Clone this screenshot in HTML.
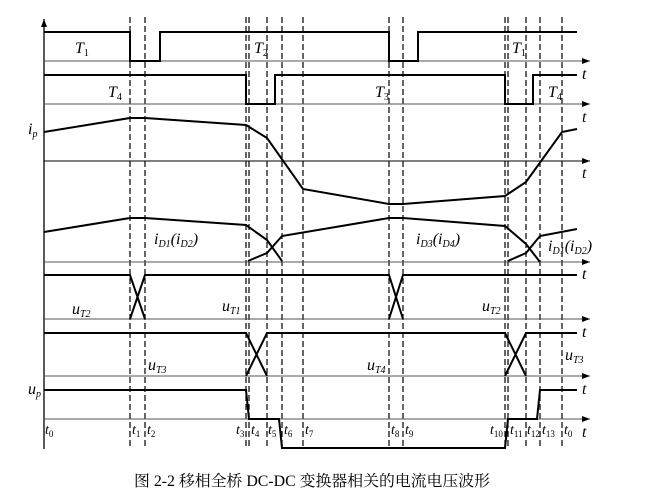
<!DOCTYPE html>
<html><head><meta charset="utf-8"><style>
html,body{margin:0;padding:0;background:#fff;}
svg{display:block;}
text{font-family:"Liberation Serif","Noto Serif CJK SC",serif;font-style:italic;fill:#000;}
tspan.s{font-style:normal;}
.cap{font-style:normal;font-family:"Liberation Serif","Noto Serif CJK SC",serif;}
</style></head><body>
<svg width="659" height="500" viewBox="0 0 659 500" xmlns="http://www.w3.org/2000/svg">
<defs><marker id="ar" markerWidth="8" markerHeight="6" refX="8" refY="3" orient="auto" markerUnits="userSpaceOnUse"><path d="M0,0 L8,3 L0,6 z" fill="#000"/></marker></defs>
<line x1="44" y1="449" x2="44" y2="19" stroke="#000" stroke-width="1.3" marker-end="url(#ar)"/>
<g stroke="#000" stroke-width="1.2" stroke-dasharray="6,3">
<line x1="130" y1="17" x2="130" y2="449"/><line x1="145" y1="17" x2="145" y2="449"/>
<line x1="246" y1="17" x2="246" y2="449"/><line x1="249" y1="17" x2="249" y2="449"/>
<line x1="267" y1="17" x2="267" y2="449"/><line x1="282" y1="17" x2="282" y2="449"/>
<line x1="303" y1="17" x2="303" y2="449"/><line x1="389" y1="17" x2="389" y2="449"/>
<line x1="403" y1="17" x2="403" y2="449"/><line x1="505" y1="17" x2="505" y2="449"/>
<line x1="508" y1="17" x2="508" y2="449"/><line x1="526" y1="17" x2="526" y2="449"/>
<line x1="540" y1="17" x2="540" y2="449"/><line x1="562" y1="17" x2="562" y2="449"/>
</g>
<g stroke="#555" stroke-width="1" marker-end="url(#ar)">
<line x1="44" y1="61" x2="590" y2="61"/>
<line x1="44" y1="104" x2="590" y2="104"/>
<line x1="44" y1="161" x2="590" y2="161" stroke="#000"/>
<line x1="44" y1="262" x2="590" y2="262"/>
<line x1="44" y1="319" x2="590" y2="319"/>
<line x1="44" y1="376" x2="590" y2="376"/>
<line x1="44" y1="419" x2="590" y2="419"/>
</g>
<g fill="none" stroke="#000" stroke-width="2">
<polyline points="44,32 130,32 130,61 160,61 160,32 389,32 389,61 418,61 418,32 577,32"/>
<polyline points="44,75 246,75 246,104 275,104 275,75 505,75 505,104 533,104 533,75 577,75"/>
<polyline points="44,132 130,118 145,118 246,125 267,138 303,189 389,204 403,204 505,196 526,182 562,132 577,129"/>
<polyline points="44,232 130,218 145,218 246,225 267,240 282,261"/>
<polyline points="248,261 267,253 282,236 389,218 403,218 505,226 526,244 540,262"/>
<polyline points="508,261 526,253 540,236 577,229"/>
<polyline points="44,275 130,275 145,319"/><polyline points="130,319 145,275 389,275 403,319"/><polyline points="389,319 403,275 577,275"/>
<polyline points="44,333 246,333 267,376"/><polyline points="246,376 267,333 505,333 526,376"/><polyline points="505,376 526,333 577,333"/>
<polyline points="44,390 246,390 249,419 279,419 282,448 505,448 508,419 537,419 540,390 577,390"/>
</g>
<g font-size="16">
<text x="75" y="53">T<tspan class="s" font-size="10" dy="3">1</tspan></text>
<text x="254" y="53">T<tspan class="s" font-size="10" dy="3">2</tspan></text>
<text x="512" y="53">T<tspan class="s" font-size="10" dy="3">1</tspan></text>
<text x="108" y="97">T<tspan class="s" font-size="10" dy="3">4</tspan></text>
<text x="375" y="97">T<tspan class="s" font-size="10" dy="3">3</tspan></text>
<text x="548" y="97">T<tspan class="s" font-size="10" dy="3">4</tspan></text>
<text x="28" y="134">i<tspan font-size="10" dy="3">p</tspan></text>
<text x="154" y="244">i<tspan font-size="10" dy="3">D1</tspan><tspan dy="-3">(i</tspan><tspan font-size="10" dy="3">D2</tspan><tspan dy="-3">)</tspan></text>
<text x="416" y="244">i<tspan font-size="10" dy="3">D3</tspan><tspan dy="-3">(i</tspan><tspan font-size="10" dy="3">D4</tspan><tspan dy="-3">)</tspan></text>
<text x="548" y="251">i<tspan font-size="10" dy="3">D1</tspan><tspan dy="-3">(i</tspan><tspan font-size="10" dy="3">D2</tspan><tspan dy="-3">)</tspan></text>
<text x="72" y="314">u<tspan font-size="10" dy="3">T2</tspan></text>
<text x="222" y="311">u<tspan font-size="10" dy="3">T1</tspan></text>
<text x="482" y="311">u<tspan font-size="10" dy="3">T2</tspan></text>
<text x="148" y="370">u<tspan font-size="10" dy="3">T3</tspan></text>
<text x="367" y="370">u<tspan font-size="10" dy="3">T4</tspan></text>
<text x="565" y="360">u<tspan font-size="10" dy="3">T3</tspan></text>
<text x="28" y="394">u<tspan font-size="10" dy="3">p</tspan></text>
<text x="582" y="79">t</text><text x="582" y="122">t</text><text x="582" y="178">t</text>
<text x="582" y="279">t</text><text x="582" y="337">t</text><text x="582" y="394">t</text>
<text x="582" y="437">t</text>
</g>
<g font-size="14">
<text x="45" y="434">t<tspan class="s" font-size="9" dy="3">0</tspan></text>
<text x="132" y="434">t<tspan class="s" font-size="9" dy="3">1</tspan></text>
<text x="147" y="434">t<tspan class="s" font-size="9" dy="3">2</tspan></text>
<text x="236" y="434">t<tspan class="s" font-size="9" dy="3">3</tspan></text>
<text x="251" y="434">t<tspan class="s" font-size="9" dy="3">4</tspan></text>
<text x="268" y="434">t<tspan class="s" font-size="9" dy="3">5</tspan></text>
<text x="284" y="434">t<tspan class="s" font-size="9" dy="3">6</tspan></text>
<text x="305" y="434">t<tspan class="s" font-size="9" dy="3">7</tspan></text>
<text x="391" y="434">t<tspan class="s" font-size="9" dy="3">8</tspan></text>
<text x="405" y="434">t<tspan class="s" font-size="9" dy="3">9</tspan></text>
<text x="490" y="434">t<tspan class="s" font-size="9" dy="3">10</tspan></text>
<text x="510" y="434">t<tspan class="s" font-size="9" dy="3">11</tspan></text>
<text x="527" y="434">t<tspan class="s" font-size="9" dy="3">12</tspan></text>
<text x="542" y="434">t<tspan class="s" font-size="9" dy="3">13</tspan></text>
<text x="564" y="434">t<tspan class="s" font-size="9" dy="3">0</tspan></text>
</g>
<text class="cap" x="134" y="486" font-size="15.5" textLength="356" lengthAdjust="spacingAndGlyphs">图 2-2 移相全桥 DC-DC 变换器相关的电流电压波形</text>
</svg>
</body></html>
